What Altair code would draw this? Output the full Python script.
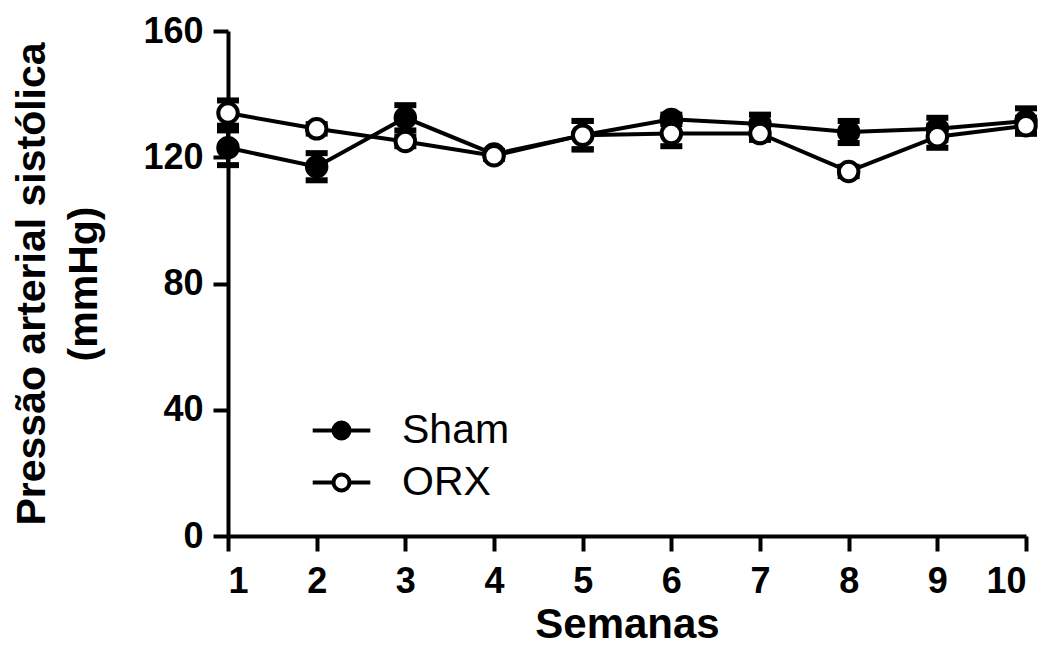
import altair as alt
import pandas as pd

weeks = [1, 2, 3, 4, 5, 6, 7, 8, 9, 10]
sham_mean = [123, 117, 132.5, 121, 127, 132, 130.5, 128, 129, 131.5]
sham_sem = [5.5, 4.3, 4, 1, 4.5, 1.5, 3, 3.5, 3.5, 4]
orx_mean = [134, 129, 125, 120.5, 127, 127.5, 127.5, 115.5, 126.5, 130]
orx_sem = [4, 1.5, 1.5, 1, 4.5, 4, 2, 1.5, 3.5, 2.5]
series_names = ["Sham", "ORX"]
y_ticks = [0, 40, 80, 120, 160]

rows = []
for name, means, sems in [("Sham", sham_mean, sham_sem), ("ORX", orx_mean, orx_sem)]:
    for w, m, s in zip(weeks, means, sems):
        rows.append({"week": w, "mean": m, "lo": m - s, "hi": m + s, "series": name})
df = pd.DataFrame(rows)

FONT = "Liberation Sans"
W, H = 798, 505

x_enc = alt.X(
    "week:Q",
    scale=alt.Scale(domain=[1, 10], nice=False, zero=False),
    axis=alt.Axis(
        values=weeks, format="d", title="Semanas",
        titleX=W / 2, titleY=101, titleBaseline="alphabetic", titleFontSize=42,
    ),
)
y_scale = alt.Scale(domain=[0, 160], nice=False)
y_axis = alt.Axis(
    values=y_ticks,
    title=["Pressão arterial sistólica", "(mmHg)"],
    titleX=-175, titleY=H / 2, titleBaseline="bottom",
    titleLineHeight=52, titleFontSize=41,
)

base = alt.Chart(df)

bars = base.mark_rule(color="black", strokeWidth=4).encode(
    x=x_enc, y=alt.Y("lo:Q", scale=y_scale, axis=y_axis), y2="hi:Q"
)
caps_lo = base.mark_tick(orient="horizontal", color="black", size=22, thickness=6, opacity=1).encode(
    x="week:Q", y="lo:Q"
)
caps_hi = base.mark_tick(orient="horizontal", color="black", size=22, thickness=6, opacity=1).encode(
    x="week:Q", y="hi:Q"
)
lines = base.mark_line(color="black", strokeWidth=4).encode(
    x="week:Q", y="mean:Q", detail="series:N"
)
points = base.mark_point(
    shape="circle", filled=True, stroke="black", strokeWidth=4, size=380, opacity=1
).encode(
    x="week:Q",
    y="mean:Q",
    fill=alt.Fill(
        "series:N",
        scale=alt.Scale(domain=series_names, range=["black", "white"]),
        legend=alt.Legend(
            orient="none", legendX=93, legendY=379, title=None,
            symbolType="M-3.6,0H-1M1,0H3.6M1,0A1,1,0,1,1,-1,0A1,1,0,1,1,1,0Z",
            symbolSize=256, symbolStrokeWidth=4, symbolStrokeColor="black",
            labelFont=FONT, labelFontSize=41, labelFontWeight="normal",
            labelColor="black", labelOffset=40, rowPadding=10, padding=0,
            labelLimit=300,
        ),
    ),
    order=alt.Order("series:N", sort="descending"),
)

chart = alt.layer(bars, caps_lo, caps_hi, lines, points).properties(
    width=W, height=H,
    autosize=alt.AutoSizeParams(type="none"),
    padding={"left": 220, "top": 23, "right": 22, "bottom": 109},
    background="white",
).configure_view(stroke=None).configure_axis(
    domainColor="black", domainWidth=4, tickColor="black", tickWidth=4, tickSize=15,
    labelFont=FONT, labelFontSize=36, labelFontWeight="bold", labelColor="black",
    titleFont=FONT, titleFontWeight="bold", titleColor="black",
    grid=False, labelPadding=10,
).configure_axisX(labelPadding=13)

chart.save("out.html", embed_options={"renderer": "svg", "actions": False})
